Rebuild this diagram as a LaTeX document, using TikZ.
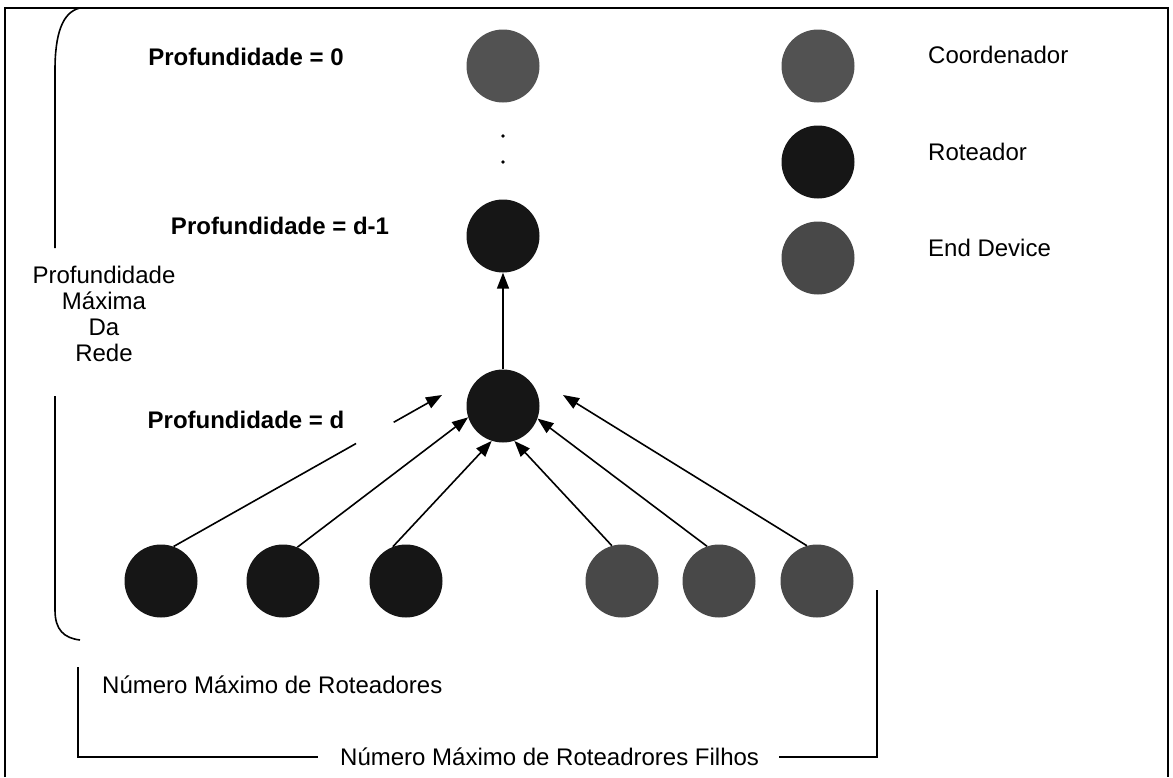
\documentclass[tikz,border=0pt]{standalone}
\usepackage{fontspec}
\setmainfont{Liberation Sans}
\usetikzlibrary{arrows.meta, positioning, calc}
\definecolor{coordGray}{RGB}{82,82,82}
\definecolor{routerBlack}{RGB}{22,22,22}
\definecolor{endGray}{RGB}{72,72,72}

\begin{document}
\begin{tikzpicture}[
  x=1pt, y=-1pt,
  dev/.style={circle, fill=#1, minimum size=73pt, inner sep=0pt},
  lbl/.style={font=\fontsize{24}{26}\selectfont, inner sep=0pt},
  blbl/.style={font=\fontsize{24}{26}\selectfont\bfseries, inner sep=0pt},
  arr/.style={-{Triangle[length=16pt,width=12pt]}, line width=1.6pt},
  brk/.style={line width=1.6pt}
]
  \useasboundingbox (0,0) rectangle (1173,777);
  % moldura
  \draw[line width=2pt] (5,777) -- (5,8) -- (1168,8) -- (1168,777);

  % arvore
  \node[dev=coordGray]   (coord) at (503,66)  {};
  \node[dev=routerBlack] (rtd1)  at (503,236) {};
  \node[dev=routerBlack] (rtd)   at (503,406) {};
  \fill (503,136) circle (1.8);
  \fill (503,162) circle (1.8);

  \node[dev=routerBlack] (r1) at (161,581) {};
  \node[dev=routerBlack] (r2) at (283,581) {};
  \node[dev=routerBlack] (r3) at (406,581) {};
  \node[dev=endGray]     (e1) at (622,581) {};
  \node[dev=endGray]     (e2) at (719,581) {};
  \node[dev=endGray]     (e3) at (817,581) {};

  \node[blbl] (p0)  at (246,57)  {Profundidade = 0};
  \node[blbl] (pd1) at (280,226) {Profundidade = d-1};
  \node[blbl] (pd)  at (246,420) {Profundidade = d};

  \draw[arr] (rtd) -- (rtd1);

  \coordinate (tipL) at (442,395);
  \coordinate (tipR) at (563,395);
  \draw[line width=1.6pt] (r1.70) -- ($(r1.70)!0.68!(tipL)$);
  \draw[arr] ($(r1.70)!0.82!(tipL)$) -- (tipL);
  \draw[arr] (r2.67)  -- (rtd.198);
  \draw[arr] (r3.111) -- (rtd.252);
  \draw[arr] (e1.106) -- (rtd.288);
  \draw[arr] (e2.109) -- (rtd.340);
  \draw[arr] (e3.106) -- (tipR);

  % profundidade maxima
  \node[lbl, align=center] (pmax) at (104,314)
    {Profundidade\\Máxima\\Da\\Rede};
  \draw[brk] (80,8) .. controls (62,12) and (55,35) .. (55,70) -- (55,248);
  \draw[brk] (55,396) -- (55,610) .. controls (55,630) and (64,638) .. (80,640);

  % numero maximo
  \node[lbl, anchor=west] (nmr) at (102,685) {Número Máximo de Roteadores};
  \node[lbl, anchor=west] (nmf) at (340,757) {Número Máximo de Roteadrores Filhos};
  \coordinate (bkL) at (78,667);
  \coordinate (bkR) at (877,590);
  \draw[brk] (bkL) |- ([xshift=-22pt]nmf.west);
  \draw[brk] ([xshift=20pt]nmf.east) -| (bkR);

  % legenda
  \node[dev=coordGray]   (lgC) at (818,66)  {};
  \node[dev=routerBlack] (lgR) at (818,162) {};
  \node[dev=endGray]     (lgE) at (818,258) {};
  \node[lbl, anchor=west] (tC) at (928,55)  {Coordenador};
  \node[lbl, anchor=west] (tR) at (928,152) {Roteador};
  \node[lbl, anchor=west] (tE) at (928,248) {End Device};
\end{tikzpicture}
\end{document}
